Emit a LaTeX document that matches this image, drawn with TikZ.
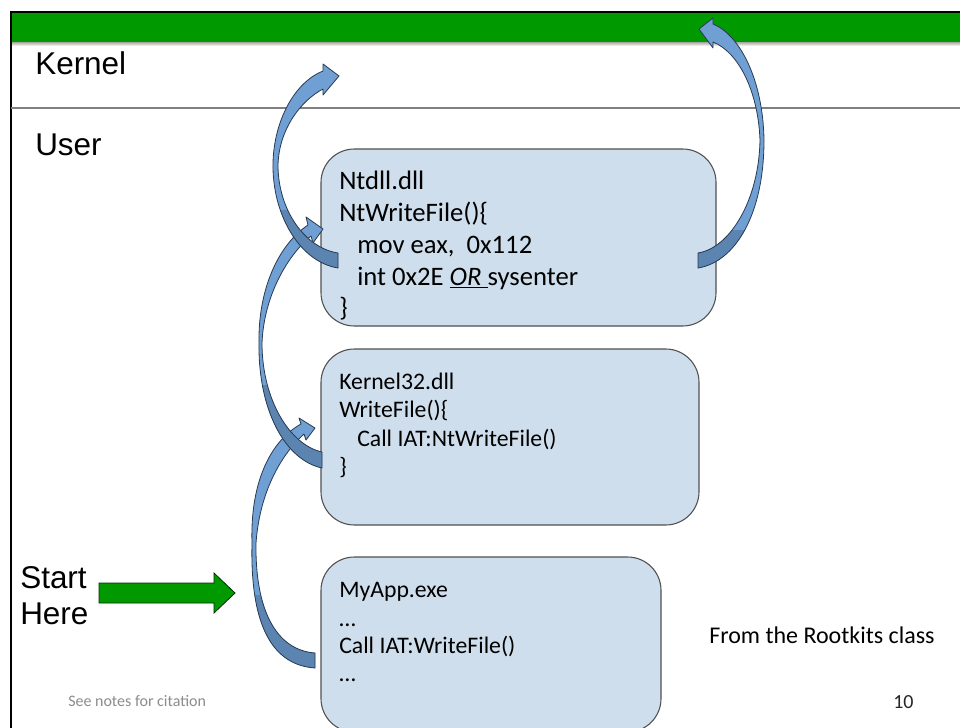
\documentclass[tikz,border=0pt]{standalone}
\usepackage{fontspec}
\setmainfont{Carlito}
\newfontfamily\arialf{Liberation Sans}
\definecolor{gbar}{RGB}{0,153,0}
\definecolor{boxfill}{RGB}{207,222,236}
\definecolor{boxline}{RGB}{80,80,80}
\definecolor{arrlight}{RGB}{112,160,211}
\definecolor{arrdark}{RGB}{92,132,176}
\definecolor{arrline}{RGB}{40,58,82}
\definecolor{divline}{RGB}{128,128,128}
\definecolor{notegray}{RGB}{140,140,140}
\begin{document}
\begin{tikzpicture}[x=0.75pt,y=-0.75pt,
  box/.style={draw=boxline, fill=boxfill, line width=0.8pt, rounded corners=25pt, inner sep=0pt},
  codebig/.style={anchor=base west, inner sep=0pt, font=\fontsize{20}{23}\selectfont},
  codesm/.style={anchor=base west, inner sep=0pt, font=\fontsize{17.8}{21}\selectfont},
  lbl/.style={anchor=base west, inner sep=0pt, font=\arialf\fontsize{23.6}{28}\selectfont},
  blockfill/.style={fill=arrlight},
  blockdark/.style={fill=arrdark},
  blockline/.style={draw=arrline, line width=0.6pt, line join=round},
  greenarrow/.style={fill=gbar, draw=black!70!gbar, line width=0.6pt}
]
\useasboundingbox (0,0) rectangle (960,728);
\fill[white] (0,0) rectangle (960,728);
% frame
\fill[gbar] (11,13) rectangle (960,42);
\shade[top color=black!35, bottom color=white] (11,42) rectangle (960,46);
\draw[black, line width=1.5pt] (10,12) -- (960,12);
\draw[black, line width=1.5pt] (11,11.5) -- (11,728);
\draw[divline, line width=1.1pt] (11,108) -- (960,108);

% labels
\node[lbl] (kernel) at (35,74) {Kernel};
\node[lbl] (user) at (35,155) {User};
\node[lbl] (start) at (20,588) {Start};
\node[lbl] (here) at (20,624) {Here};

% boxes
\node[box, minimum width=296.25pt, minimum height=132.75pt] (ntdll) at (518.5,237.5) {};
\node[box, minimum width=283.5pt, minimum height=132pt] (k32) at (510,437) {};
\node[box, minimum width=255pt, minimum height=131.25pt] (myapp) at (491,644.5) {};

% Ntdll text
\node[codebig] (nt1) at (339,189) {Ntdll.dll};
\node[codebig] (nt2) at (339,221) {NtWriteFile()\{};
\node[codebig] (nt3) at (357,253) {mov eax,\ \ 0x112};
\node[codebig] (nt4) at (357,285) {int 0x2E \underline{\textit{OR}\ }sysenter};
\node[codebig] (nt5) at (339,316) {\}};
% Kernel32 text
\node[codesm] (k1) at (339,389) {Kernel32.dll};
\node[codesm] (k2) at (339,417.5) {WriteFile()\{};
\node[codesm] (k3) at (357,446) {Call IAT:NtWriteFile()};
\node[codesm] (k4) at (339,474.5) {\}};
% MyApp text
\node[codesm] (m1) at (339,597) {MyApp.exe};
\node[codesm] (m2) at (339,626) {…};
\node[codesm] (m3) at (339,653) {Call IAT:WriteFile()};
\node[codesm] (m4) at (339,681) {…};

% footer texts
\node[anchor=base west, inner sep=0pt, font=\fontsize{18}{21}\selectfont] (from) at (709,643) {From the Rootkits class};
\node[anchor=base west, inner sep=0pt, font=\fontsize{15}{18}\selectfont, text=black!85] (pnum) at (893,708) {10};
\node[anchor=base west, inner sep=0pt, font=\fontsize{12}{14}\selectfont, text=notegray] (notes) at (68,706) {See notes for citation};

% green start arrow
\draw[greenarrow] (99,583) -- (214,583) -- (214,573) -- (235,593) -- (214,613) -- (214,603) -- (99,603) -- cycle;

% curved block arrows
\def\arrowC{(315,653) .. controls (276,650) and (255,610) .. (256,543) .. controls (260,488) and (284,452) .. (304,434) -- (306,440) -- (315,428) -- (299,418) -- (301,424) .. controls (272,440) and (250,480) .. (252,543) .. controls (250,625) and (272,665) .. (315,668) -- cycle}
\def\arrowB{(322,452) .. controls (290,445) and (262,400) .. (262,343) .. controls (264,295) and (288,255) .. (311,236) -- (313,243) -- (323,229) -- (306,217) -- (308,225) .. controls (278,245) and (258,290) .. (259,343) .. controls (258,410) and (285,460) .. (322,468) -- cycle}
\def\arrowA{(338,253) .. controls (305,248) and (278,210) .. (278,165) .. controls (279,128) and (302,100) .. (323,89) -- (323,95) -- (339,76) -- (323,64) -- (323,71) .. controls (295,82) and (274,120) .. (273,163) .. controls (272,215) and (300,262) .. (338,268) -- cycle}
\def\arrowD{(698,253) .. controls (730,248) and (759,200) .. (760,140) .. controls (758,90) and (738,52) .. (713,42) -- (713,48) -- (699,29) -- (713,18) -- (713,24) .. controls (740,35) and (763,80) .. (764,140) .. controls (764,215) and (735,262) .. (698,268) -- cycle}

\fill[blockfill] \arrowC;
\begin{scope}\clip (0,595) rectangle (960,728); \fill[blockdark] \arrowC; \end{scope}
\draw[blockline] \arrowC;

\fill[blockfill] \arrowB;
\begin{scope}\clip (0,385) rectangle (960,728); \fill[blockdark] \arrowB; \end{scope}
\draw[blockline] \arrowB;

\fill[blockfill] \arrowA;
\begin{scope}\clip (0,210) rectangle (960,728); \fill[blockdark] \arrowA; \end{scope}
\draw[blockline] \arrowA;

\fill[blockfill] \arrowD;
\begin{scope}\clip (0,230) rectangle (960,728); \fill[blockdark] \arrowD; \end{scope}
\draw[blockline] \arrowD;
\end{tikzpicture}
\end{document}
